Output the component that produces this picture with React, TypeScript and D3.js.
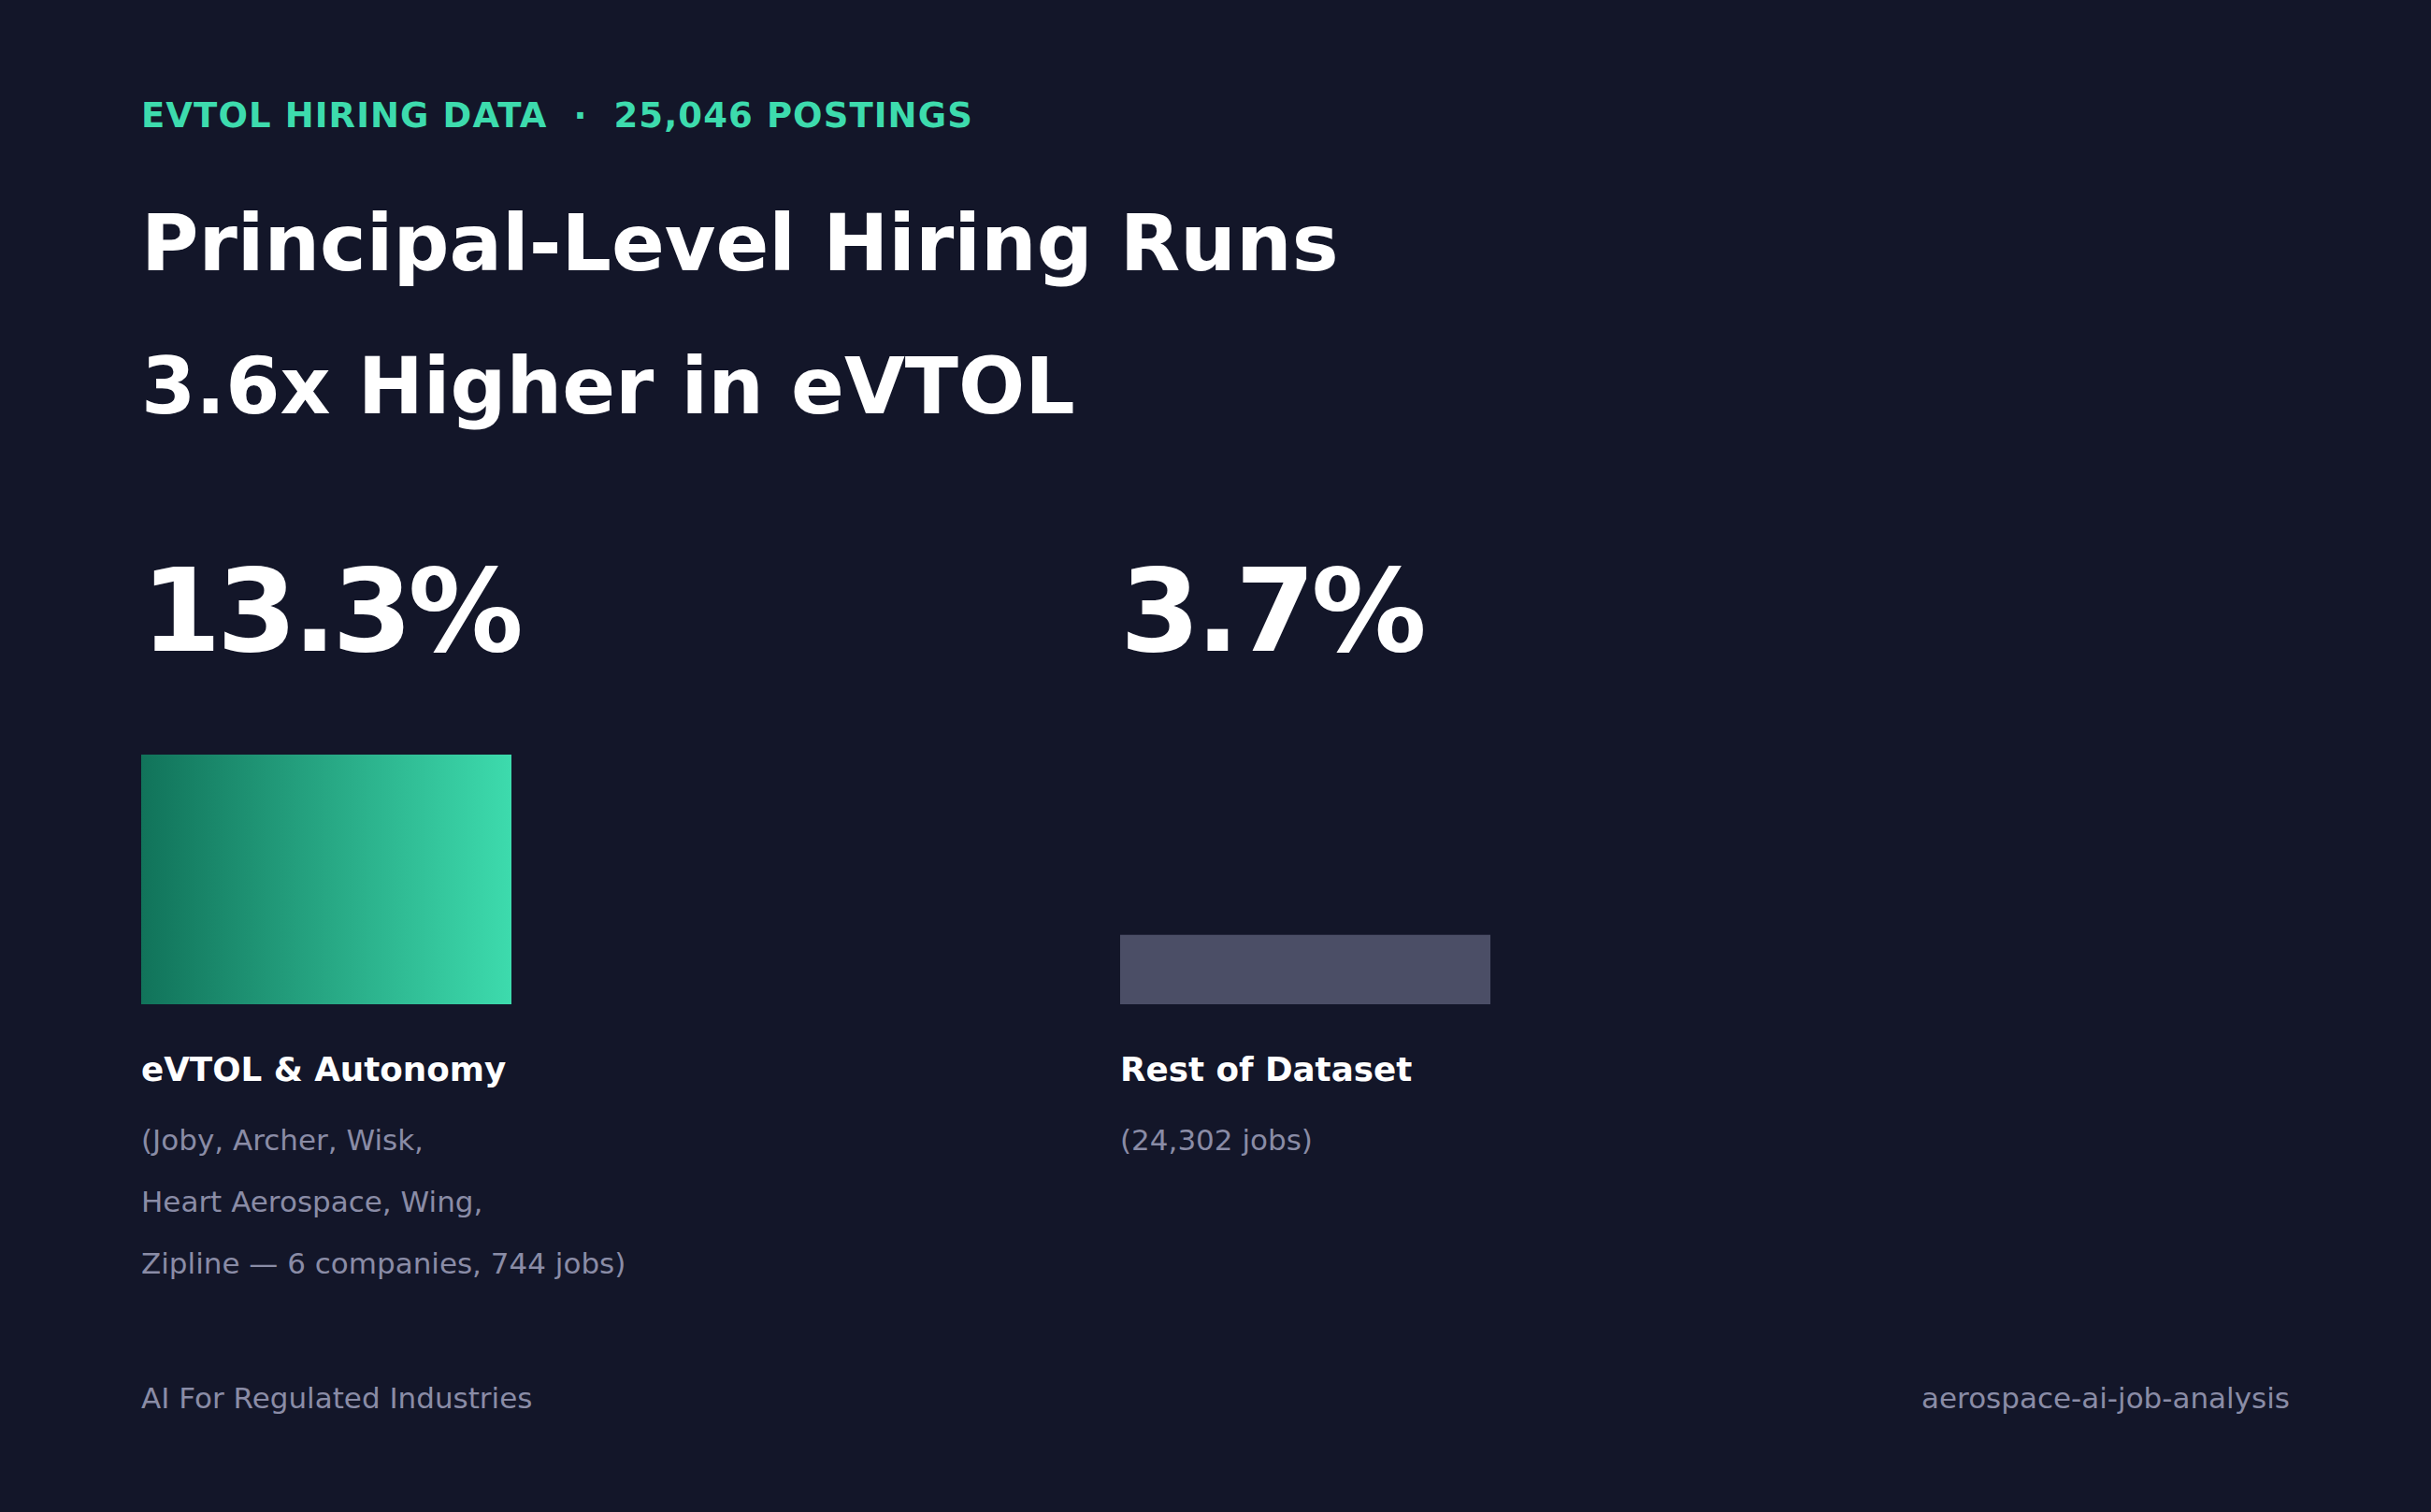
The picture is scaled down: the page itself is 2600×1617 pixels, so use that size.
import * as d3 from "d3";

const W = 2600;
const H = 1617;

// chart data
const categories = ["eVTOL & Autonomy", "Rest of Dataset"];
const shares = [13.3, 3.7];
const details = [
  ["(Joby, Archer, Wisk,", "Heart Aerospace, Wing,", "Zipline \u2014 6 companies, 744 jobs)"],
  ["(24,302 jobs)"],
];
const kicker = "EVTOL HIRING DATA  \u00b7  25,046 POSTINGS";
const titleLines = ["Principal-Level Hiring Runs", "3.6x Higher in eVTOL"];
const footerLeft = "AI For Regulated Industries";
const footerRight = "aerospace-ai-job-analysis";

const BG = "#131629";
const TEAL = "#3ddbad";
const MUTED = "#8a8ca6";
const FONT = "'DejaVu Sans', sans-serif";

export default function App() {
  const x = d3.scaleBand<string>().domain(categories).range([151, 151 + 1047 * 2]);
  const y = d3.scaleLinear().domain([0, 13.3]).range([1074, 807]);
  const barW = 396;

  return (
    <svg
      width={W}
      height={H}
      viewBox={`0 0 ${W} ${H}`}
      style={{ position: "absolute", left: 0, top: 0, display: "block" }}
      fontFamily={FONT}
    >
      <defs>
        <linearGradient id="tealGrad" x1="0" x2="1" y1="0" y2="0">
          <stop offset="0%" stopColor="#11735a" />
          <stop offset="100%" stopColor="#3ddbad" />
        </linearGradient>
      </defs>
      <rect width={W} height={H} fill={BG} />

      <text x={151} y={136} fill={TEAL} fontSize={37} fontWeight="bold" letterSpacing={1.1} style={{ whiteSpace: "pre" }}>
        {kicker}
      </text>
      {titleLines.map((t, i) => (
        <text key={t} x={151} y={289 + i * 153} fill="#ffffff" fontSize={83.8} fontWeight="bold">
          {t}
        </text>
      ))}

      {categories.map((c, i) => {
        const x0 = x(c) as number;
        return (
          <g key={c}>
            <text x={x0} y={696} fill="#ffffff" fontSize={123} fontWeight="bold" letterSpacing={-4.5}>
              {shares[i]}%
            </text>
            <rect
              x={x0}
              y={y(shares[i])}
              width={barW}
              height={y(0) - y(shares[i])}
              fill={i === 0 ? "url(#tealGrad)" : "#4b4e66"}
            />
            <text x={x0} y={1156} fill="#ffffff" fontSize={35.7} fontWeight="bold">
              {c}
            </text>
            {details[i].map((d, j) => (
              <text key={j} x={x0} y={1230 + j * 66} fill={MUTED} fontSize={31}>
                {d}
              </text>
            ))}
          </g>
        );
      })}

      <text x={151} y={1506} fill={MUTED} fontSize={31}>
        {footerLeft}
      </text>
      <text x={2449} y={1506} fill={MUTED} fontSize={31} textAnchor="end">
        {footerRight}
      </text>
    </svg>
  );
}
